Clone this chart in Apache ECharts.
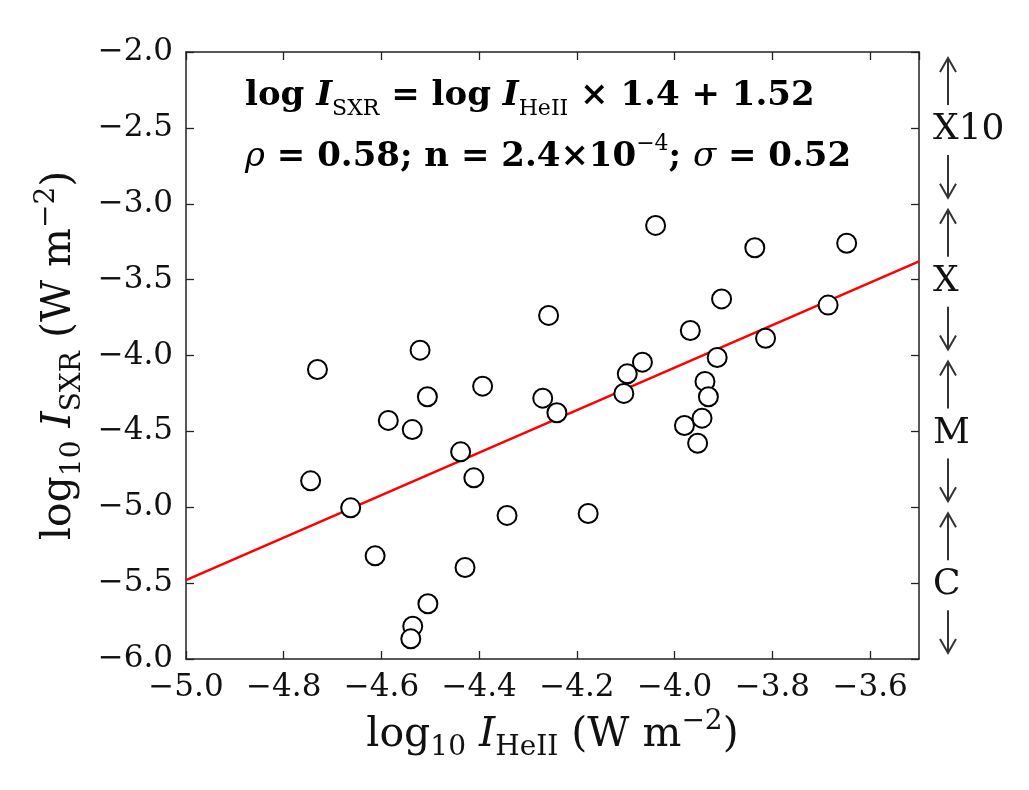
<!DOCTYPE html>
<html><head><meta charset="utf-8">
<script src="https://cdn.jsdelivr.net/npm/echarts@6/dist/echarts.min.js"></script>
<style>html,body{margin:0;padding:0;background:#fff}#c{width:1029px;height:790px}</style>
</head><body><div id="c"></div>
<script>
// ---- data ----
const heIIValues = [-4.731,-4.521,-4.393,-4.506,-4.270,-4.258,-4.586,-4.537,-4.438,-4.241,
  -4.039,-3.836,-3.648,-3.904,-3.686,-3.968,-3.814,-3.913,-4.066,-4.097,
  -4.104,-3.938,-3.931,-3.944,-3.980,-3.953,-4.745,-4.663,-4.411,-4.343,
  -4.177,-4.613,-4.429,-4.505,-4.536,-4.540];
const sxrValues = [-4.092,-3.965,-4.202,-4.272,-4.281,-3.736,-4.428,-4.488,-4.635,-4.377,
  -3.143,-3.290,-3.260,-3.627,-3.668,-3.835,-3.886,-4.013,-4.044,-4.121,
  -4.250,-4.171,-4.272,-4.413,-4.461,-4.578,-4.826,-5.004,-4.806,-5.054,
  -5.041,-5.320,-5.397,-5.636,-5.784,-5.867];
const fitX = [-5.0, -3.5];
const fitY = [-5.48, -3.38];
const classNames = ['X10', 'X', 'M', 'C'];
const classLow = [-3, -4, -5, -6];
const classHigh = [-2, -3, -4, -5];
const xMin = -5.0, xMax = -3.5, xStep = 0.2;
const yMin = -6.0, yMax = -2.0, yStep = 0.5;
const eqLine1 = '{b|log }{i|I}{s|SXR}{b| = log }{i|I}{s|HeII}{b| × 1.4 + 1.52}';
const eqLine2 = '{r|ρ}{b| = 0.58; n = 2.4×10}{p|−4}{b|; }{r|σ}{b| = 0.52}';
const xName = '{b|log}{s|10}{b| }{i|I}{s|HeII}{b| (W m}{p|−2}{b|)}';
const yName = '{b|log}{s|10}{b| }{i|I}{s|SXR}{b| (W m}{p|−2}{b|)}';

// ---- chart ----
const SERIF = "'DejaVu Serif', 'Liberation Serif', serif";
const fmt = v => v.toFixed(1).replace('-', '\u2212');
function richSet(base, sub, lh, weight) {
  return {
    b: {fontFamily: SERIF, fontWeight: weight, fontSize: base, lineHeight: lh, verticalAlign: 'middle', color: '#111'},
    i: {fontFamily: SERIF, fontWeight: weight, fontStyle: 'italic', fontSize: base, lineHeight: lh, verticalAlign: 'middle', color: '#111'},
    r: {fontFamily: SERIF, fontStyle: 'italic', fontSize: base, lineHeight: lh, verticalAlign: 'middle', color: '#111'},
    s: {fontFamily: SERIF, fontSize: sub, verticalAlign: 'bottom', color: '#111'},
    p: {fontFamily: SERIF, fontSize: sub, verticalAlign: 'top', color: '#111'}
  };
}
const axisLineStyle = {color: '#222', width: 1.5};
const tickCommon = {show: true, inside: true, length: 8, lineStyle: {color: '#222', width: 1.3}};
const chart = echarts.init(document.getElementById('c'), null, {renderer: 'canvas'});
const scatterData = heIIValues.map((x, i) => [x, sxrValues[i]]);
const fitData = fitX.map((x, i) => [x, fitY[i]]);
const classData = classNames.map((n, i) => [classLow[i], classHigh[i], i]);

chart.setOption({
  animation: false,
  backgroundColor: '#fff',
  grid: {left: 186, top: 52, width: 733, height: 607},
  xAxis: [{
    type: 'value', min: xMin, max: xMax, interval: xStep, position: 'bottom',
    axisLine: {show: true, onZero: false, lineStyle: axisLineStyle},
    axisTick: tickCommon, splitLine: {show: false},
    axisLabel: {formatter: fmt, showMaxLabel: false, margin: 13, fontFamily: SERIF, fontSize: 31, color: '#111'},
    name: xName, nameLocation: 'middle', nameGap: 31,
    nameTextStyle: {rich: richSet(41, 28, 54, 'normal')}
  }, {
    type: 'value', min: xMin, max: xMax, interval: xStep, position: 'top',
    axisLine: {show: true, onZero: false, lineStyle: axisLineStyle},
    axisTick: tickCommon, splitLine: {show: false}, axisLabel: {show: false}
  }],
  yAxis: [{
    type: 'value', min: yMin, max: yMax, interval: yStep, position: 'left',
    axisLine: {show: true, onZero: false, lineStyle: axisLineStyle},
    axisTick: tickCommon, splitLine: {show: false},
    axisLabel: {formatter: fmt, margin: 13, fontFamily: SERIF, fontSize: 31, color: '#111'},
    name: yName, nameLocation: 'middle', nameGap: 98,
    nameTextStyle: {rich: richSet(41, 28, 54, 'normal')}
  }, {
    type: 'value', min: yMin, max: yMax, interval: yStep, position: 'right',
    axisLine: {show: true, onZero: false, lineStyle: axisLineStyle},
    axisTick: tickCommon, splitLine: {show: false}, axisLabel: {show: false}
  }],
  graphic: [
    {type: 'text', left: 245, top: 79, style: {text: eqLine1, rich: richSet(34, 22, 48, 'bold')}},
    {type: 'text', left: 245, top: 133, style: {text: eqLine2, rich: richSet(34, 22, 48, 'bold')}}
  ],
  series: [{
    type: 'line', data: fitData, symbol: 'none', z: 2,
    lineStyle: {color: '#ff0000', width: 2.5}, silent: true
  }, {
    type: 'scatter', data: scatterData, symbol: 'circle', symbolSize: 19, z: 5,
    itemStyle: {color: '#ffffff', borderColor: '#000', borderWidth: 2, opacity: 1}, silent: true
  }, {
    type: 'custom', data: classData, clip: false, silent: true, z: 6,
    encode: {x: 2, y: 0},
    renderItem: function (params, api) {
      const lo = api.value(0), hi = api.value(1), idx = api.value(2);
      const pTop = api.coord([xMax, hi]);
      const pBot = api.coord([xMax, lo]);
      const cx = pTop[0] + 29;
      const cy = (pTop[1] + pBot[1]) / 2 + 2;
      const gap = 25, inset = 6, hw = 8, hl = 14;
      const st = {stroke: '#333', lineWidth: 2, fill: null};
      const tUp = pTop[1] + inset, tDn = pBot[1] - inset;
      return {type: 'group', children: [
        {type: 'text', x: cx - 15, y: cy, style: {text: classNames[idx], align: 'left', verticalAlign: 'middle',
          fontFamily: SERIF, fontSize: 36, fill: '#111'}},
        {type: 'line', shape: {x1: cx, y1: cy - gap, x2: cx, y2: tUp}, style: st},
        {type: 'polyline', shape: {points: [[cx - hw, tUp + hl], [cx, tUp], [cx + hw, tUp + hl]]}, style: st},
        {type: 'line', shape: {x1: cx, y1: cy + gap, x2: cx, y2: tDn}, style: st},
        {type: 'polyline', shape: {points: [[cx - hw, tDn - hl], [cx, tDn], [cx + hw, tDn - hl]]}, style: st}
      ]};
    }
  }]
});
</script></body></html>
